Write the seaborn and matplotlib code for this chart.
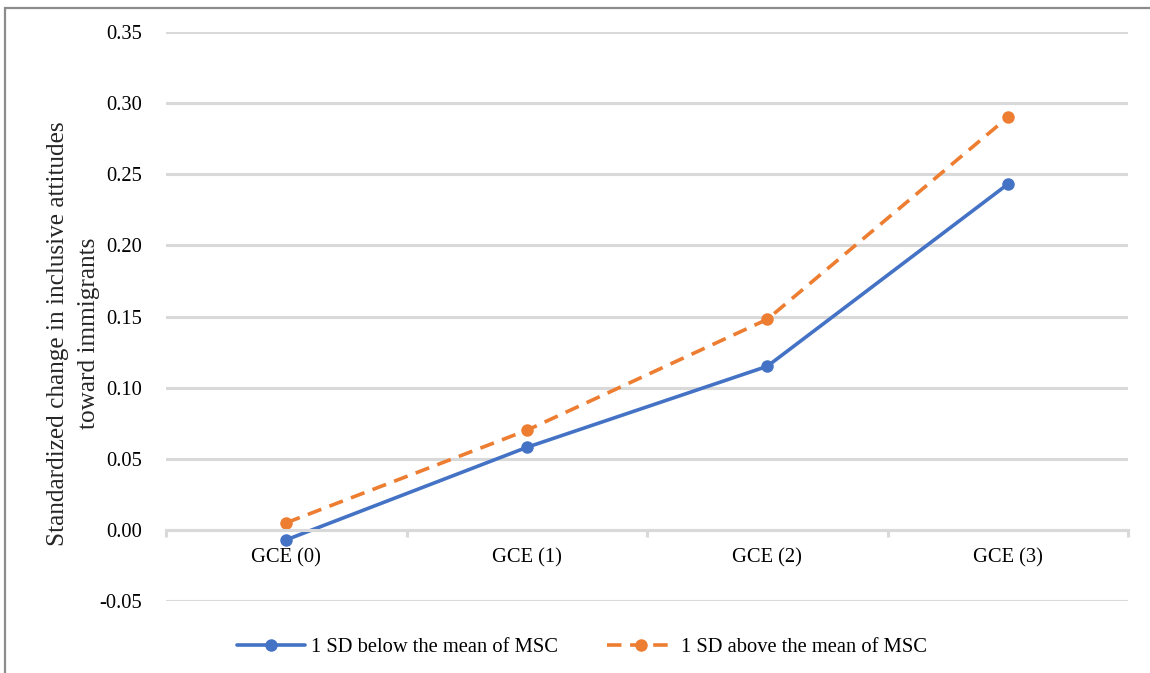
import matplotlib
matplotlib.use("Agg")
import matplotlib.pyplot as plt
import matplotlib.patches as mpatches
import pandas as pd
import seaborn as sns

# data
categories = ["GCE (0)", "GCE (1)", "GCE (2)", "GCE (3)"]
below_msc = [-0.007, 0.058, 0.115, 0.243]
above_msc = [0.005, 0.070, 0.148, 0.290]
series_labels = ["1 SD below the mean of MSC", "1 SD above the mean of MSC"]
y_ticks = [-0.05, 0.00, 0.05, 0.10, 0.15, 0.20, 0.25, 0.30, 0.35]

BLUE = "#4472C4"
ORANGE = "#ED7D31"
GRID = "#D9D9D9"


def set_style() -> None:
    sns.set_theme(style="white")
    plt.rcParams.update({
        "font.family": ["Liberation Serif", "DejaVu Serif"],
        "font.size": 14.5,
        "text.color": "black",
        "xtick.color": "black",
        "ytick.color": "black",
    })


def build_figure() -> plt.Figure:
    fig = plt.figure(figsize=(11.5, 6.73), dpi=100)
    ax = fig.add_axes([166 / 1150, 1 - 601 / 673, 962 / 1150, 569 / 673])

    df = pd.DataFrame({"cat": categories, "below": below_msc, "above": above_msc})
    sns.lineplot(data=df, x="cat", y="below", color=BLUE, linewidth=2.6,
                 marker="o", markersize=9, markeredgewidth=0,
                 label=series_labels[0], sort=False, ax=ax)
    sns.lineplot(data=df, x="cat", y="above", color=ORANGE, linewidth=2.6,
                 marker="o", markersize=9, markeredgewidth=0,
                 dashes=False, label=series_labels[1], sort=False, ax=ax)
    ax.lines[1].set_dashes((4.0, 2.4))

    ax.set_xlim(-0.5, 3.5)
    ax.set_ylim(-0.05, 0.35)
    ax.set_yticks(y_ticks)
    ax.set_yticklabels([f"{v:.2f}" for v in y_ticks])
    ax.yaxis.grid(True, color=GRID, linewidth=2.2)
    ax.set_axisbelow(True)

    for side in ("top", "right", "left"):
        ax.spines[side].set_visible(False)
    ax.spines["bottom"].set_position(("data", 0))
    ax.spines["bottom"].set_color(GRID)
    ax.spines["bottom"].set_linewidth(2.2)

    ax.tick_params(axis="y", left=False, length=0, pad=17, labelsize=14.8)
    ax.set_xticks(range(len(categories)))
    ax.set_xticklabels(categories)
    ax.tick_params(axis="x", which="major", length=0, pad=13, labelsize=14.8)
    ax.set_xticks([-0.5, 0.5, 1.5, 2.5, 3.5], minor=True)
    ax.tick_params(axis="x", which="minor", bottom=True, length=5, width=2.2,
                   color=GRID, direction="out")

    ax.set_xlabel("")
    ax.set_ylabel("Standardized change in inclusive attitudes\ntoward immigrants",
                  fontsize=18.2, linespacing=1.5)
    ax.yaxis.set_label_coords(-0.069, 0.47)

    ax.get_legend().remove()
    handles, labels = ax.get_legend_handles_labels()
    fig.legend(handles, labels, loc="center", bbox_to_anchor=(0.506, 1 - 647 / 673),
               ncol=2, frameon=False, fontsize=14.8, handlelength=3.3,
               handletextpad=0.3, columnspacing=2.4)

    # outer chart border (cropped on the right and bottom in the source)
    border = mpatches.Rectangle((5 / 1150, -0.2), 1.2, 1.2 - 8 / 673,
                                transform=fig.transFigure, fill=False,
                                edgecolor="#8C8C8C", linewidth=1.6,
                                clip_on=False)
    fig.patches.append(border)
    return fig


def main() -> None:
    set_style()
    fig = build_figure()
    fig.savefig("out.png", dpi=100, facecolor="white")


if __name__ == "__main__":
    main()
